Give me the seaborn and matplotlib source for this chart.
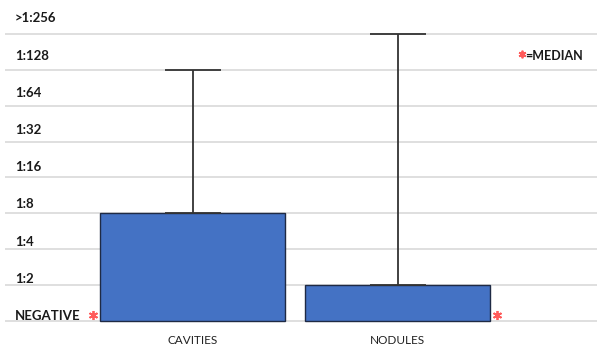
import matplotlib
matplotlib.use("Agg")
import matplotlib.pyplot as plt
import seaborn as sns
import pandas as pd

# Titer scale: index 0 = negative, each step doubles the dilution
titer_labels = ["NEGATIVE", "1:2", "1:4", "1:8", "1:16", "1:32", "1:64", "1:128", ">1:256"]
categories = ["CAVITIES", "NODULES"]
bar_values = [3, 1]        # 1:8 and 1:2
upper_values = [7, 8]      # 1:128 and >1:256
median_values = [0, 0]     # both medians negative

sns.set_theme(style="white")
plt.rcParams["font.family"] = ["Lato", "DejaVu Sans"]

fig = plt.figure(figsize=(5.97, 3.48), dpi=100)
ax = fig.add_axes([5 / 597, 1 - 328.2 / 348, 592 / 597, (328.2 - 26.8) / 348])

bar_width = 0.9
df = pd.DataFrame({"group": categories, "titer": bar_values})
sns.barplot(data=df, x="group", y="titer", ax=ax, width=bar_width,
            color="#4472C4", saturation=1, edgecolor="#1f2a44", linewidth=1.0,
            errorbar=None, zorder=2)

# upper whiskers only
xs = list(range(len(categories)))
ax.errorbar(xs, bar_values,
            yerr=[[0] * len(bar_values), [u - v for u, v in zip(upper_values, bar_values)]],
            fmt="none", ecolor="#333333", elinewidth=1.3, capsize=20, capthick=1.3,
            zorder=3)

ax.set_xlim(-0.9146, 1.973)
ax.set_ylim(-0.2, 8.2)
ax.set_yticks(range(len(titer_labels)))
ax.set_yticklabels([])
ax.yaxis.grid(True, color="#d9d9d9", linewidth=1.2, zorder=0)
ax.set_axisbelow(True)
ax.tick_params(axis="both", length=0)
ax.tick_params(axis="x", pad=5, labelsize=8.5, labelcolor="#222222")
ax.set_xlabel("")
ax.set_ylabel("")
for s in ax.spines.values():
    s.set_visible(False)

# titer labels sit just above their grid lines, left aligned
for k, lab in enumerate(titer_labels):
    ax.text(10 / 592, k * 1.037 + 0.14, lab, transform=ax.get_yaxis_transform(),
            ha="left", va="center", fontsize=9.5, fontweight="bold", color="#1a1a1a")

# median markers just outside each bar
asterisk = (6, 2, 0)
sides = [-1, 1]
for x, m, side in zip(xs, median_values, sides):
    ax.plot(x + side * (bar_width / 2 + 0.035), m + 0.16, linestyle="none",
            marker=asterisk, markersize=6.5, markeredgewidth=1.3,
            color="#ff5a5a", zorder=4, clip_on=False)

# key
fig.lines.append(plt.Line2D([521.5 / 597], [1 - 54 / 348], transform=fig.transFigure,
                            linestyle="none", marker=asterisk, markersize=5.5,
                            markeredgewidth=1.3, color="#ff5a5a"))
fig.text(525 / 597, 1 - 56 / 348, "=MEDIAN", ha="left", va="center",
         fontsize=9, fontweight="bold", color="#1a1a1a")

fig.savefig("out.png", dpi=100)
